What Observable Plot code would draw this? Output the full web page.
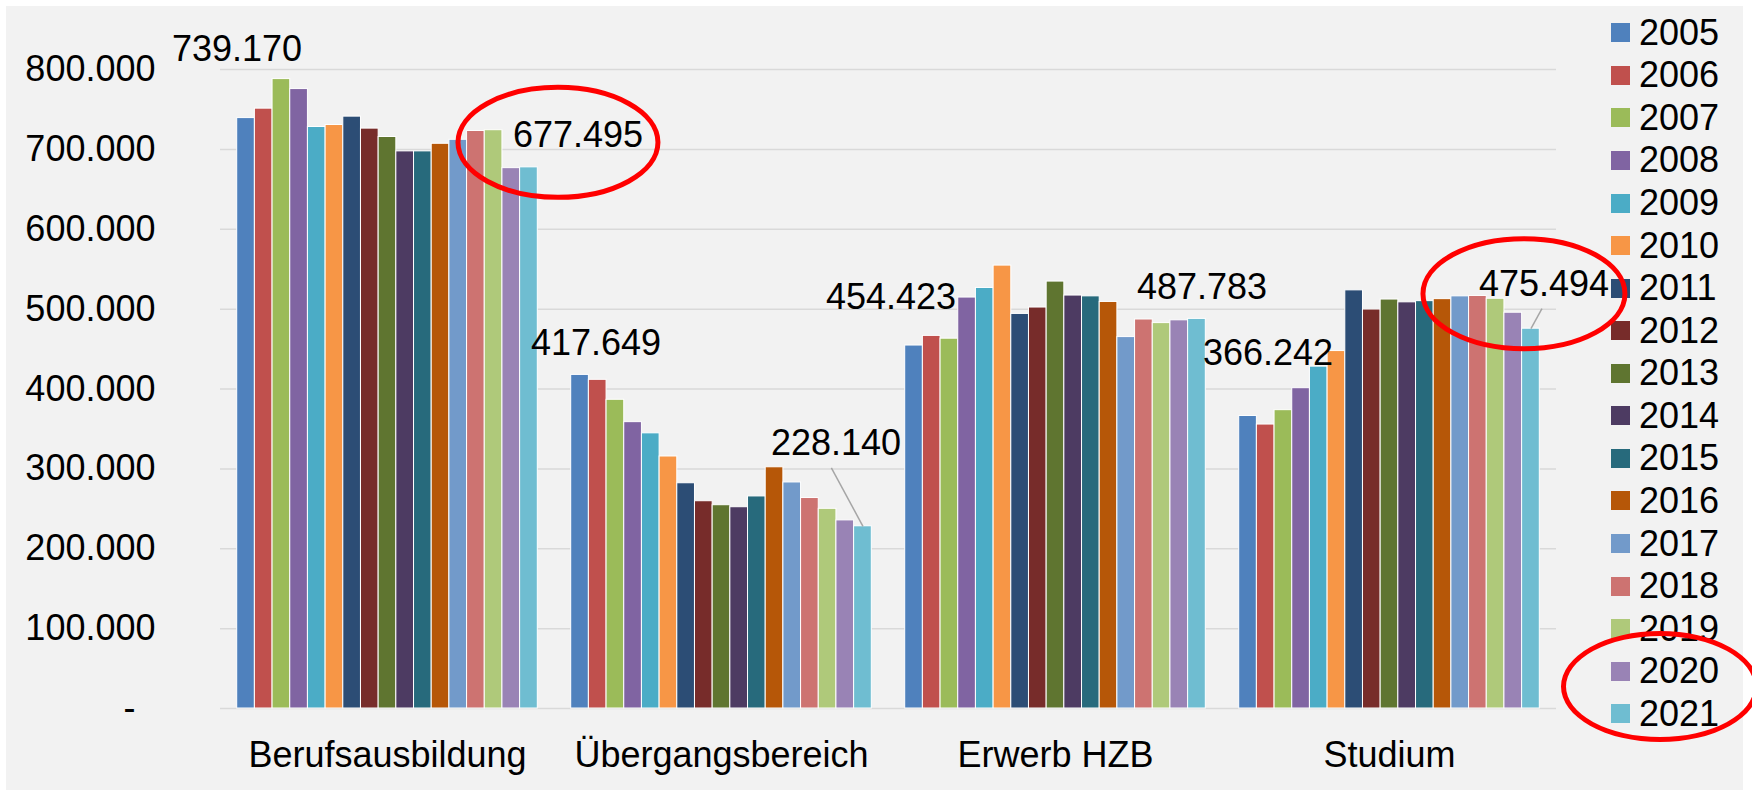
<!DOCTYPE html>
<html>
<head>
<meta charset="utf-8">
<script src="https://cdn.jsdelivr.net/npm/d3@7"></script>
<script src="https://cdn.jsdelivr.net/npm/@observablehq/plot@0.6"></script>
<style>
html, body { margin: 0; padding: 0; background: #fff; width: 1752px; height: 791px; overflow: hidden;
  font-family: "Liberation Sans", Arial, sans-serif; }
#bg { position: absolute; left: 6px; top: 6px; width: 1737px; height: 784px; background: #f2f2f2; }
#legend { position: absolute; left: 1611px; top: 11.5px; }
.row { display: flex; align-items: center; height: 42.57px; font-size: 36px; color: #000; }
.sw { width: 19px; height: 19px; margin-right: 9px; }
#grid, #chart { position: absolute; left: 0; top: 0; }
#ring { position: absolute; left: 1561px; top: 631px; width: 188px; height: 101px;
  border: 5px solid #ff0000; border-radius: 50%; }
</style>
</head>
<body>
<div id="bg"></div>
<div id="grid"></div>
<div id="legend"></div>
<div id="chart"></div>
<div id="ring"></div>
<script>
const categories = ["Berufsausbildung", "Übergangsbereich", "Erwerb HZB", "Studium"];
const years = ["2005","2006","2007","2008","2009","2010","2011","2012","2013","2014","2015","2016","2017","2018","2019","2020","2021"];
const berufsausbildung = [739170, 751000, 788000, 775500, 728000, 730500, 741000, 726000, 715500, 697500, 697500, 707000, 712000, 723000, 724000, 676500, 677495];
const uebergangsbereich = [417649, 411500, 386500, 358500, 344500, 315500, 282000, 259500, 254500, 252000, 265500, 302000, 283000, 263500, 250000, 235500, 228140];
const erwerbHZB = [454423, 466500, 463000, 514500, 526500, 554500, 494000, 502000, 534500, 517000, 516000, 509000, 465000, 487000, 482500, 486000, 487783];
const studium = [366242, 355500, 373500, 401000, 428000, 447500, 523500, 499500, 512000, 508500, 510000, 512500, 516000, 516500, 513000, 495500, 475494];
const yTicks = [0, 100000, 200000, 300000, 400000, 500000, 600000, 700000, 800000];
const colors = ["#4f81bd","#c0504d","#9bbb59","#8064a2","#4bacc6","#f79646","#2c4d75","#772c2a","#5f7530","#4d3b62","#276a7c","#b65708","#729aca","#cd7371","#afc97a","#9983b5","#6fbdd1"];

// labelled bars (style offsets kept separate from data)
const labelStyle = [
  {cat: "Berufsausbildung", year: "2005", dx: -9, dy: -69},
  {cat: "Berufsausbildung", year: "2021", dx: 49, dy: -32},
  {cat: "Übergangsbereich", year: "2005", dx: 16, dy: -31},
  {cat: "Übergangsbereich", year: "2021", dx: -27, dy: -83},
  {cat: "Erwerb HZB", year: "2005", dx: -23, dy: -48},
  {cat: "Erwerb HZB", year: "2021", dx: 5, dy: -31},
  {cat: "Studium", year: "2005", dx: 20, dy: -62},
  {cat: "Studium", year: "2021", dx: 13, dy: -44}
];
const leaderStyle = [
  {cat: "Übergangsbereich", year: "2021", lx: -31.6, ly: -58.4},
  {cat: "Studium", year: "2021", lx: 11, ly: -20}
];
const ringStyle = [
  {cat: "Berufsausbildung", year: "2021", dx: 29, dy: -25, rx: 100, ry: 55},
  {cat: "Studium", year: "2021", dx: -7, dy: -35, rx: 101, ry: 55}
];

const series = [berufsausbildung, uebergangsbereich, erwerbHZB, studium];
const rows = categories.flatMap((c, i) => years.map((y, j) => ({cat: c, year: y, value: series[i][j]})));
const find = (c, y) => rows.find(r => r.cat === c && r.year === y);

const de = d3.formatLocale({decimal: ",", thousands: ".", grouping: [3], currency: ["", " €"]});
const fmt = de.format(",d");

const FONT = '"Liberation Sans", Arial, sans-serif';
const dims = {width: 1752, height: 791, marginLeft: 220, marginRight: 196, marginTop: 69, marginBottom: 83};

// background: gridlines + y axis (continuous across groups)
const grid = Plot.plot({
  ...dims,
  style: {background: "transparent", fontFamily: FONT, fontSize: "36px", color: "#000", overflow: "visible"},
  y: {domain: [0, 800000]},
  marks: [
    Plot.ruleY(yTicks, {stroke: "#d9d9d9", strokeWidth: 1.5}),
    Plot.axisY({ticks: yTicks, tickFormat: d => d === 0 ? "-\u00a0\u00a0" : fmt(d), tickSize: 0, tickPadding: 65, fontSize: 36, label: null, fill: "#000"})
  ]
});
document.getElementById("grid").appendChild(grid);

const labelMarks = labelStyle.map(s => Plot.text([find(s.cat, s.year)], {
  fx: "cat", x: "year", y: "value", text: d => fmt(d.value),
  dx: s.dx, dy: s.dy, fontSize: 36, fill: "#000"
}));
const leaderMarks = leaderStyle.map(s => Plot.dot([find(s.cat, s.year)], {
  fx: "cat", x: "year", y: "value", fill: "none", stroke: "#a6a6a6", strokeWidth: 1.5,
  symbol: {draw(ctx) { ctx.moveTo(0, 0); ctx.lineTo(s.lx, s.ly); }}
}));
const k = 0.5523;
const ringMarks = ringStyle.map(s => Plot.dot([find(s.cat, s.year)], {
  fx: "cat", x: "year", y: "value", dx: s.dx, dy: s.dy, fill: "none", stroke: "#ff0000", strokeWidth: 5,
  symbol: {draw(ctx) {
    const rx = s.rx, ry = s.ry;
    ctx.moveTo(rx, 0);
    ctx.bezierCurveTo(rx, k * ry, k * rx, ry, 0, ry);
    ctx.bezierCurveTo(-k * rx, ry, -rx, k * ry, -rx, 0);
    ctx.bezierCurveTo(-rx, -k * ry, -k * rx, -ry, 0, -ry);
    ctx.bezierCurveTo(k * rx, -ry, rx, -k * ry, rx, 0);
    ctx.closePath();
  }}
}));

const chart = Plot.plot({
  ...dims,
  style: {background: "transparent", fontFamily: FONT, fontSize: "36px", color: "#000", overflow: "visible"},
  fx: {domain: categories, paddingInner: 0.1, paddingOuter: 0.05, round: false},
  x: {domain: years, axis: null, padding: 0, round: false},
  y: {domain: [0, 800000], axis: null},
  color: {domain: years, range: colors},
  marks: [
    Plot.axisFx({anchor: "bottom", tickSize: 0, tickPadding: 33, fontSize: 36, label: null, fill: "#000"}),
    Plot.barY(rows, {fx: "cat", x: "year", y: "value", fill: "year", stroke: "#fff", strokeWidth: 1}),
    ...leaderMarks,
    ...labelMarks,
    ...ringMarks
  ]
});
document.getElementById("chart").appendChild(chart);

const legend = document.getElementById("legend");
years.forEach((y, i) => {
  const row = document.createElement("div");
  row.className = "row";
  const sw = document.createElement("div");
  sw.className = "sw";
  sw.style.background = colors[i];
  const t = document.createElement("span");
  t.textContent = y;
  row.appendChild(sw);
  row.appendChild(t);
  legend.appendChild(row);
});
</script>
</body>
</html>
